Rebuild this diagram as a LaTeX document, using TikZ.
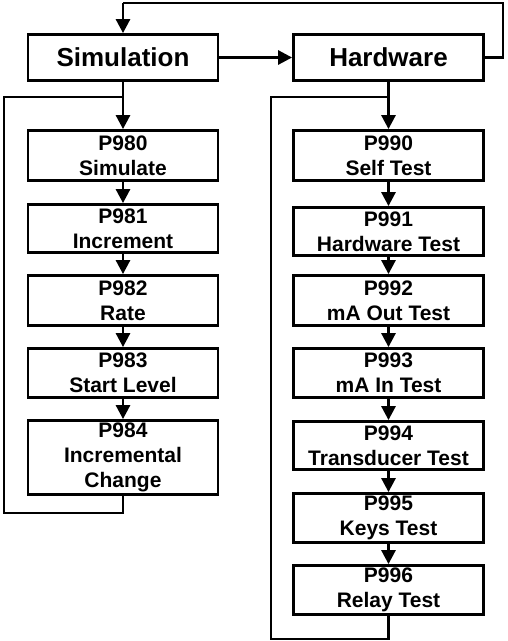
\documentclass[tikz,border=0pt]{standalone}
\usepackage{fontspec}
\setmainfont{Liberation Sans}
\usetikzlibrary{arrows.meta}
\begin{document}
\begin{tikzpicture}[x=1pt,y=-1pt,
  box/.style={draw, line width=2.8pt, rectangle, align=center, minimum width=190pt, inner sep=0pt,
    font=\bfseries\fontsize{21}{25}\selectfont},
  head/.style={box, minimum height=46pt, font=\bfseries\fontsize{26}{30}\selectfont},
  wire/.style={line width=2.8pt},
  arr/.style={wire, -{Triangle[length=14pt,width=14pt]}}]
\useasboundingbox (0,0) rectangle (507,641);
% headers
\node[head] (sim) at (123,57.5) {Simulation};
\node[head] (hw) at (388.5,57.5) {Hardware};
% left column
\node[box, minimum height=50pt] (p980) at (123,155.5) {P980\\Simulate};
\node[box, minimum height=48pt] (p981) at (123,228.5) {P981\\Increment};
\node[box, minimum height=50pt] (p982) at (123,300.5) {P982\\Rate};
\node[box, minimum height=49pt] (p983) at (123,373) {P983\\Start Level};
\node[box, minimum height=74pt] (p984) at (123,457.5) {P984\\Incremental\\Change};
% right column
\node[box, minimum height=50pt] (p990) at (388.5,155.5) {P990\\Self Test};
\node[box, minimum height=48pt] (p991) at (388.5,231.5) {P991\\Hardware Test};
\node[box, minimum height=50pt] (p992) at (388.5,300.5) {P992\\mA Out Test};
\node[box, minimum height=49pt] (p993) at (388.5,373) {P993\\mA In Test};
\node[box, minimum height=48pt] (p994) at (388.5,445.5) {P994\\Transducer Test};
\node[box, minimum height=49pt] (p995) at (388.5,518) {P995\\Keys Test};
\node[box, minimum height=49pt] (p996) at (388.5,590) {P996\\Relay Test};
% coordinates
\coordinate (ljoin) at (123,97);
\coordinate (rjoin) at (388.5,97);
\coordinate (topleft) at (123,3);
\coordinate (topright) at (503,3);
% connectors
\draw[arr] (sim) -- (hw);
\draw[wire] (hw.east) -- (hw.east -| topright) -- (topright) -- (topleft);
\draw[arr] (topleft) -- (sim.north);
\draw[arr] (sim) -- (p980);
\draw[arr] (p980) -- (p981);
\draw[arr] (p981) -- (p982);
\draw[arr] (p982) -- (p983);
\draw[arr] (p983) -- (p984);
\draw[arr] (hw) -- (p990);
\draw[arr] (p990) -- (p991);
\draw[arr] (p991) -- (p992);
\draw[arr] (p992) -- (p993);
\draw[arr] (p993) -- (p994);
\draw[arr] (p994) -- (p995);
\draw[arr] (p995) -- (p996);
% loops
\draw[wire] (p984.south) -- ++(0,17) -| (4,97) -- (ljoin);
\draw[wire] (p996.south) -- ++(0,23) -| (271,97) -- (rjoin);
\end{tikzpicture}
\end{document}
